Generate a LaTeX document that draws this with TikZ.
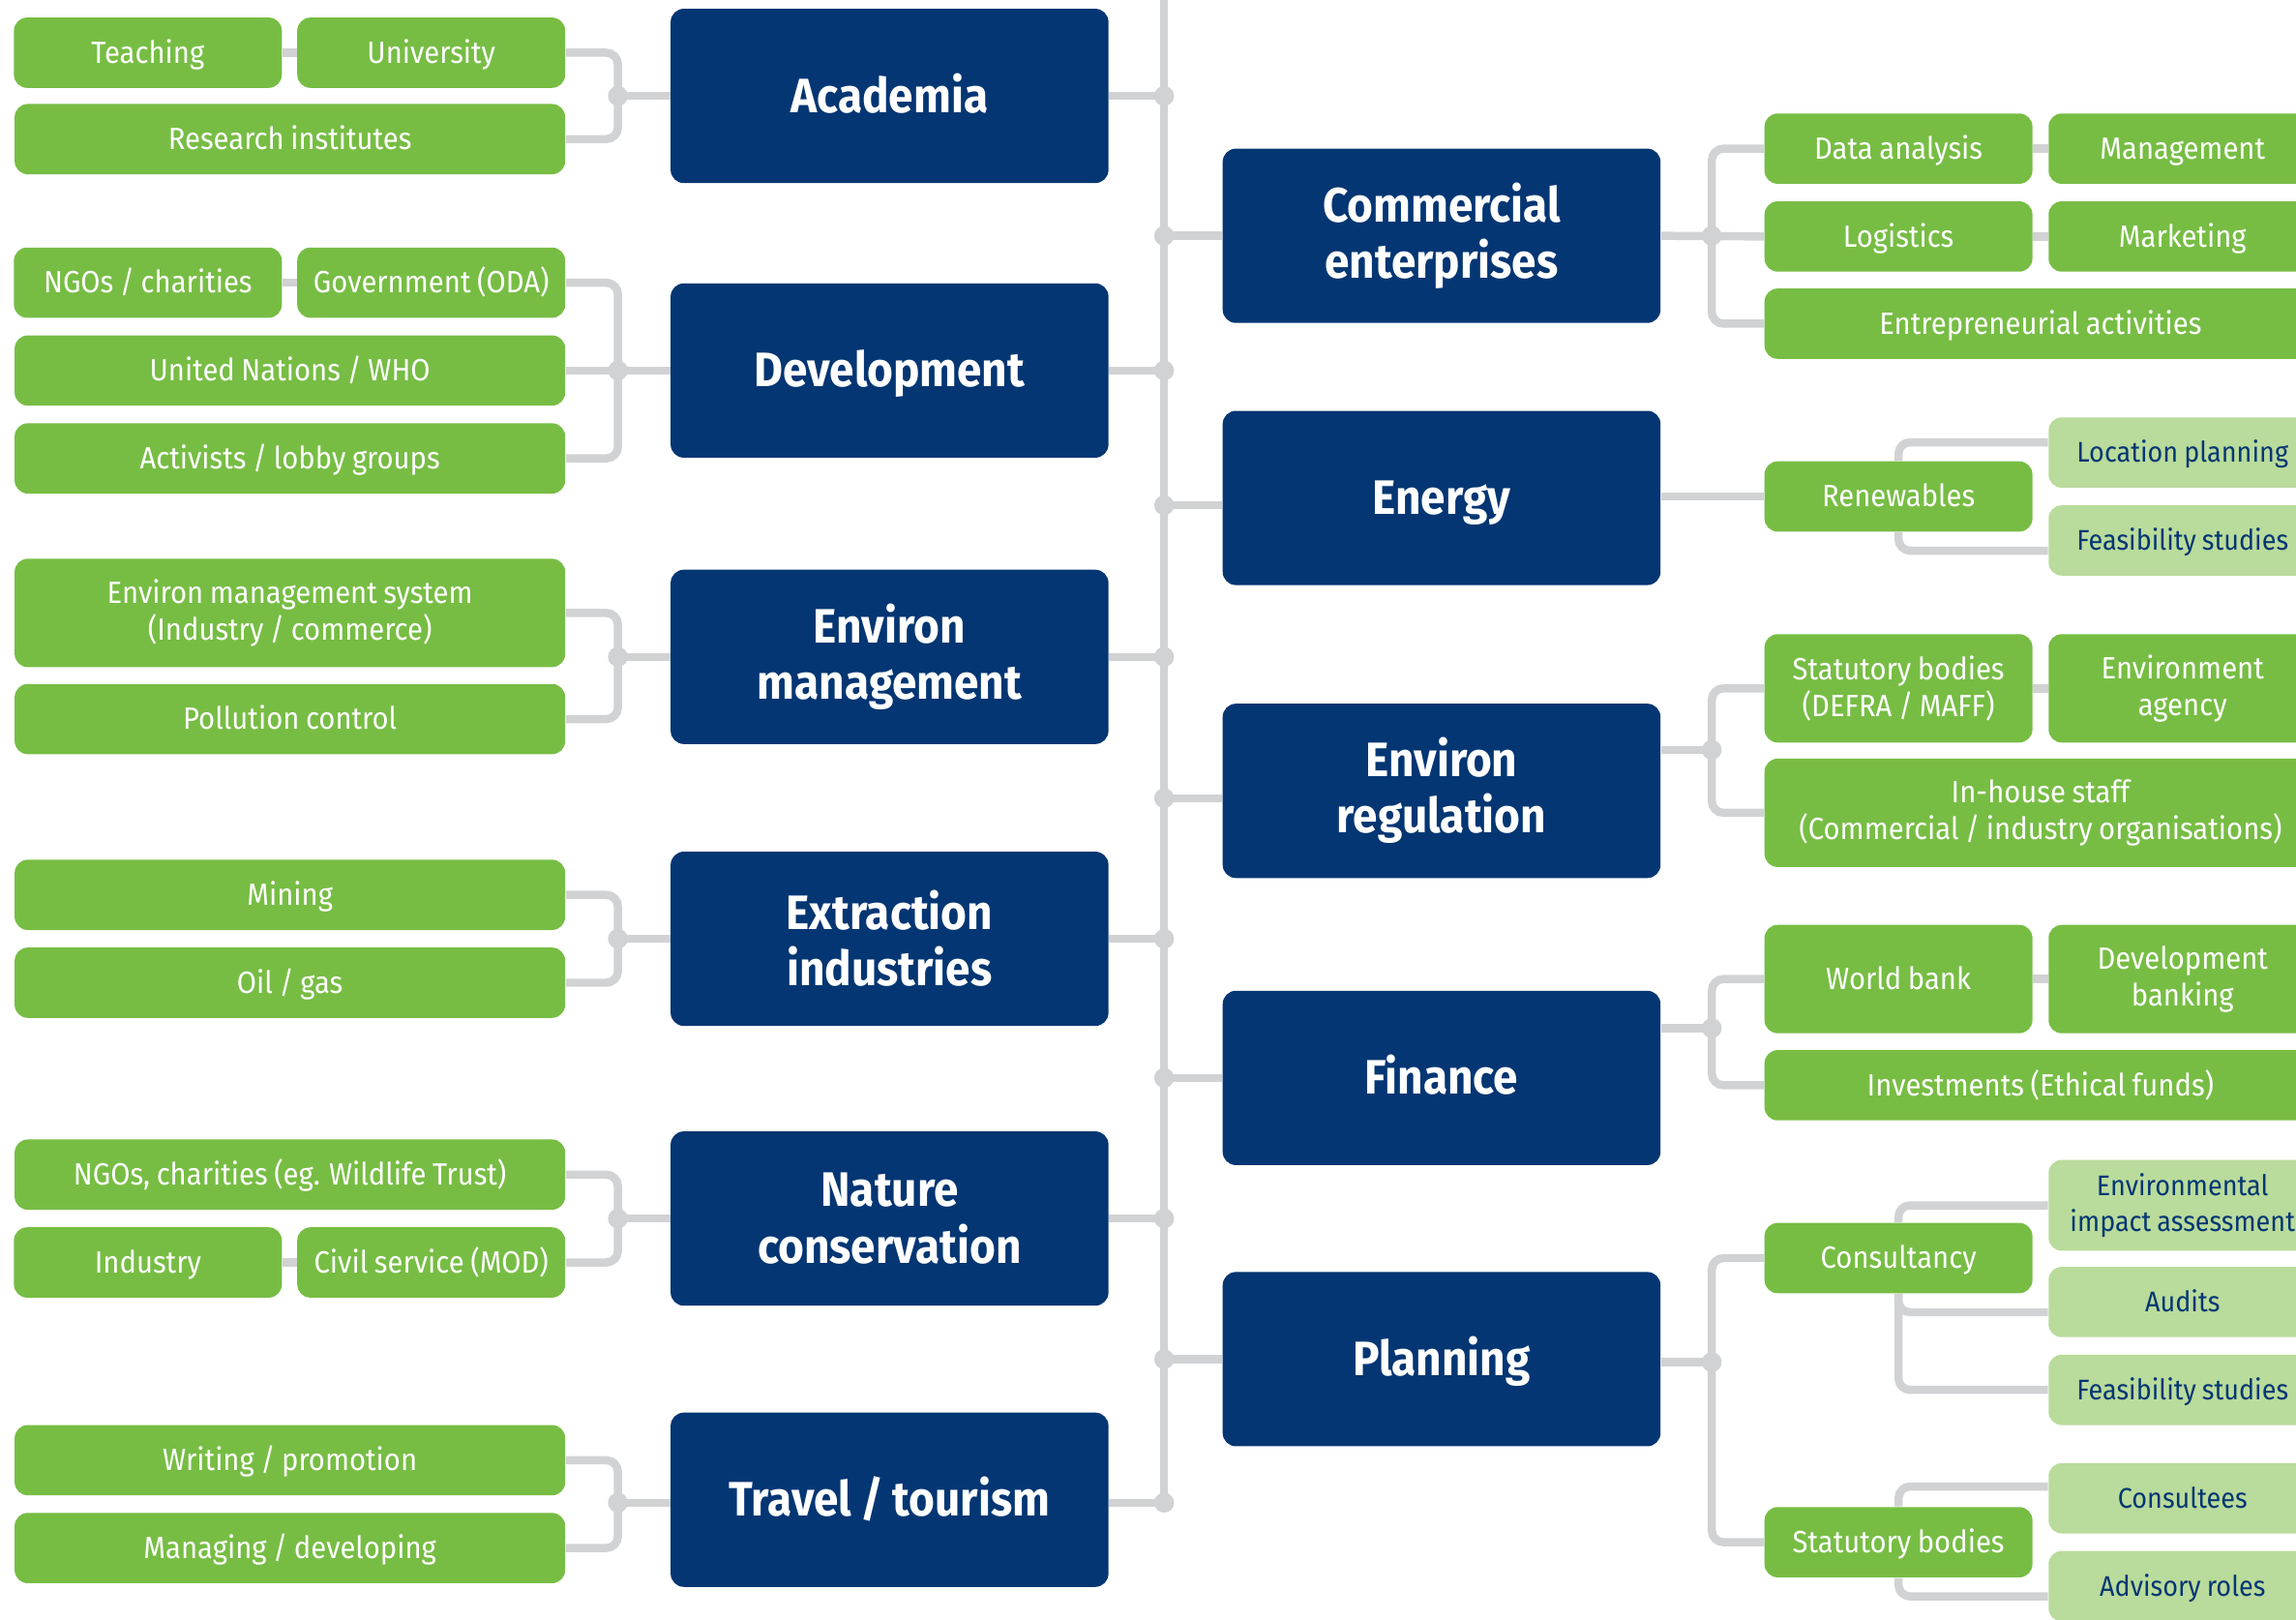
\documentclass[tikz,border=0pt]{standalone}
\usepackage{fontspec}
\setmainfont{Fira Sans}[FakeStretch=0.92,WordSpace=0.85]
\usetikzlibrary{backgrounds}
\definecolor{navy}{HTML}{043673}
\definecolor{grn}{HTML}{77BD44}
\definecolor{lgrn}{HTML}{B9DB9B}
\definecolor{conn}{HTML}{D1D2D4}
\tikzset{
  navycore/.style={fill=navy, rounded corners=4.5pt, minimum width=149.5pt, minimum height=59.5pt,
    text=white, font=\bfseries\fontsize{16.5}{19.2}\selectfont, align=center, inner sep=0pt},
  navybox/.style={navycore, text height=11.3pt, text depth=0pt},
  navyboxm/.style={navycore},
  gcore/.style={fill=grn, rounded corners=4.5pt, minimum height=24pt, text=white,
    font=\fontsize{10.5}{12.7}\selectfont, align=center, inner sep=0pt},
  gbox/.style={gcore, text height=7.2pt, text depth=0pt},
  gboxm/.style={gcore, minimum height=37pt},
  lbox/.style={gbox, fill=lgrn, text=navy, font=\fontsize{9.7}{12}\selectfont, text height=6.7pt},
  lboxm/.style={gboxm, fill=lgrn, text=navy, minimum height=31pt, font=\fontsize{9.7}{12}\selectfont},
  ghalf/.style={minimum width=91.5pt},
  gfull/.style={minimum width=188pt},
  gwide/.style={minimum width=188.5pt},
  cline/.style={draw=conn, line width=2.8pt, rounded corners=4pt},
}
\begin{document}
\begin{tikzpicture}[x=0.5pt,y=-0.5pt]
\useasboundingbox (0,0) rectangle (1568,1106);
\clip (0,0) rectangle (1568,1106);

% ---------- main category boxes ----------
\node[navybox]  (acad) at (607.5,65.5) {Academia};
\node[navybox]  (dev)  at (607.5,253)  {Development};
\node[navyboxm] (envm) at (607.5,448.5) {Environ\\management};
\node[navyboxm] (extr) at (607.5,641)  {Extraction\\industries};
\node[navyboxm] (natc) at (607.5,832)  {Nature\\conservation};
\node[navybox]  (trav) at (607.5,1024) {Travel / tourism};

\node[navyboxm] (comm) at (984.5,161)  {Commercial\\enterprises};
\node[navybox]  (ener) at (984.5,340)  {Energy};
\node[navyboxm] (envr) at (984.5,540)  {Environ\\regulation};
\node[navybox]  (fin)  at (984.5,736)  {Finance};
\node[navybox]  (plan) at (984.5,928)  {Planning};

% ---------- left sub boxes ----------
\node[gbox,ghalf] (teach) at (101,36)   {Teaching};
\node[gbox,ghalf] (univ)  at (294.5,36) {University};
\node[gbox,gfull] (resi)  at (198,95)   {Research institutes};

\node[gbox,ghalf] (ngo)   at (101,193)   {NGOs / charities};
\node[gbox,ghalf] (govt)  at (294.5,193) {Government (ODA)};
\node[gbox,gfull] (un)    at (198,253)   {United Nations / WHO};
\node[gbox,gfull] (activ) at (198,313)   {Activists / lobby groups};

\node[gboxm,gfull] (ems)  at (198,418.5) {Environ management system\\(Industry / commerce)};
\node[gbox,gfull]  (poll) at (198,491)   {Pollution control};

\node[gbox,gfull] (mine) at (198,611) {Mining};
\node[gbox,gfull] (oil)  at (198,671) {Oil / gas};

\node[gbox,gfull] (ngowt) at (198,802)   {NGOs, charities (eg. Wildlife Trust)};
\node[gbox,ghalf] (indu)  at (101,862)   {Industry};
\node[gbox,ghalf] (civil) at (294.5,862) {Civil service (MOD)};

\node[gbox,gfull] (writ) at (198,997)  {Writing / promotion};
\node[gbox,gfull] (mang) at (198,1057) {Managing / developing};

% ---------- right sub boxes ----------
\node[gbox,ghalf] (data) at (1296.5,101.5) {Data analysis};
\node[gbox,ghalf] (mgmt) at (1490.5,101.5) {Management};
\node[gbox,ghalf] (logi) at (1296.5,161.5) {Logistics};
\node[gbox,ghalf] (mark) at (1490.5,161.5) {Marketing};
\node[gbox,gwide] (entr) at (1393.5,221)   {Entrepreneurial activities};

\node[gbox,ghalf] (renw) at (1296.5,339) {Renewables};
\node[lbox,ghalf] (locp) at (1490.5,309) {Location planning};
\node[lbox,ghalf] (feas) at (1490.5,369) {Feasibility studies};

\node[gboxm,ghalf] (stat)  at (1296.5,470) {Statutory bodies\\(DEFRA / MAFF)};
\node[gboxm,ghalf] (envag) at (1490.5,470) {Environment\\agency};
\node[gboxm,gwide] (inhs)  at (1393.5,555) {In-house staff\\(Commercial / industry organisations)};

\node[gbox,ghalf,minimum height=37pt] (wbank) at (1296.5,668.5) {World bank};
\node[gboxm,ghalf] (devb)  at (1490.5,668.5) {Development\\banking};
\node[gbox,gwide]  (inv)   at (1393.5,741)   {Investments (Ethical funds)};

\node[gbox,ghalf]  (cons)  at (1296.5,859)  {Consultancy};
\node[gbox,ghalf]  (statb) at (1296.5,1053) {Statutory bodies};
\node[lboxm,ghalf] (eia)   at (1490.5,823)  {Environmental\\impact assessment};
\node[lbox,ghalf]  (aud)   at (1490.5,889)  {Audits};
\node[lbox,ghalf]  (feas2) at (1490.5,949)  {Feasibility studies};
\node[lbox,ghalf]  (cnsl)  at (1490.5,1023) {Consultees};
\node[lbox,ghalf]  (advr)  at (1490.5,1083) {Advisory roles};

% ---------- connectors ----------
\begin{pgfonlayer}{background}
  % spine
  \coordinate (ctop) at (795,0);
  \coordinate (s1) at (795,65.5);
  \coordinate (s2) at (795,161);
  \coordinate (s3) at (795,253);
  \coordinate (s4) at (795,345);
  \coordinate (s5) at (795,448.5);
  \coordinate (s6) at (795,545);
  \coordinate (s7) at (795,641);
  \coordinate (s8) at (795,736);
  \coordinate (s9) at (795,832);
  \coordinate (s10) at (795,928);
  \coordinate (s11) at (795,1026);
  \draw[cline] (ctop) -- (s11);
  \draw[cline] (acad.east) -- (s1);
  \draw[cline] (dev.east) -- (s3);
  \draw[cline] (envm.east) -- (s5);
  \draw[cline] (extr.east) -- (s7);
  \draw[cline] (natc.east) -- (s9);
  \draw[cline] (s11 -| trav.east) -- (s11);
  \draw[cline] (s2) -- (comm.west);
  \draw[cline] (s4) -- (s4 -| ener.west);
  \draw[cline] (s6) -- (s6 -| envr.west);
  \draw[cline] (s8) -- (fin.west);
  \draw[cline] (s10) -- (plan.west);

  % left brackets
  \coordinate (jA) at (422,65.5);
  \coordinate (jB) at (422,253);
  \coordinate (jG) at (422,448.5);
  \coordinate (jH) at (422,641);
  \coordinate (jI) at (422,832);
  \coordinate (jJ) at (422,1026);
  \draw[cline] (teach) -- (univ);
  \draw[cline] (univ.east) -| (jA) |- (resi.east);
  \draw[cline] (jA) -- (acad.west);
  \draw[cline] (ngo) -- (govt);
  \draw[cline] (govt.east) -| (jB) |- (activ.east);
  \draw[cline] (un.east) -- (dev.west);
  \draw[cline] (ems.east) -| (jG) |- (poll.east);
  \draw[cline] (jG) -- (envm.west);
  \draw[cline] (mine.east) -| (jH) |- (oil.east);
  \draw[cline] (jH) -- (extr.west);
  \draw[cline] (indu) -- (civil);
  \draw[cline] (ngowt.east) -| (jI) |- (civil.east);
  \draw[cline] (jI) -- (natc.west);
  \draw[cline] (writ.east) -| (jJ) |- (mang.east);
  \draw[cline] (jJ) -- (jJ -| trav.west);

  % right brackets
  \coordinate (jC) at (1169,161);
  \coordinate (jD) at (1169,512);
  \coordinate (jE) at (1169,702);
  \coordinate (jF) at (1169,930);
  \draw[cline] (data) -- (mgmt);
  \draw[cline] (logi) -- (mark);
  \draw[cline] (data.west) -| (jC) |- (entr.west);
  \draw[cline] (comm.east) -- (logi.west);
  \draw[cline] (renw.west -| ener.east) -- (renw.west);
  \draw[cline] (renw.north) |- ([yshift=3.5pt]locp.west);
  \draw[cline] (renw.south) |- ([yshift=-3.5pt]feas.west);
  \draw[cline] (stat) -- (envag);
  \draw[cline] (stat.west) -| (jD) |- (inhs.west);
  \draw[cline] (jD) -- (jD -| envr.east);
  \draw[cline] (wbank) -- (devb);
  \draw[cline] (wbank.west) -| (jE) |- (inv.west);
  \draw[cline] (jE) -- (jE -| fin.east);
  \draw[cline] (cons.west) -| (jF) |- (statb.west);
  \draw[cline] (jF) -- (jF -| plan.east);
  \draw[cline] (cons.north) |- (eia.west);
  \draw[cline] (cons.south) |- ([yshift=-3.5pt]aud.west);
  \draw[cline] (cons.south) |- (feas2.west);
  \draw[cline] (statb.north) |- ([yshift=4pt]cnsl.west);
  \draw[cline] (statb.south) |- ([yshift=-3.5pt]advr.west);

  % junction dots
  \foreach \p in {s1,s2,s3,s4,s5,s6,s7,s8,s9,s10,s11,jA,jB,jG,jH,jI,jJ,jC,jD,jE,jF}
    \fill[conn] (\p) circle (3.4pt);
\end{pgfonlayer}
\end{tikzpicture}
\end{document}
